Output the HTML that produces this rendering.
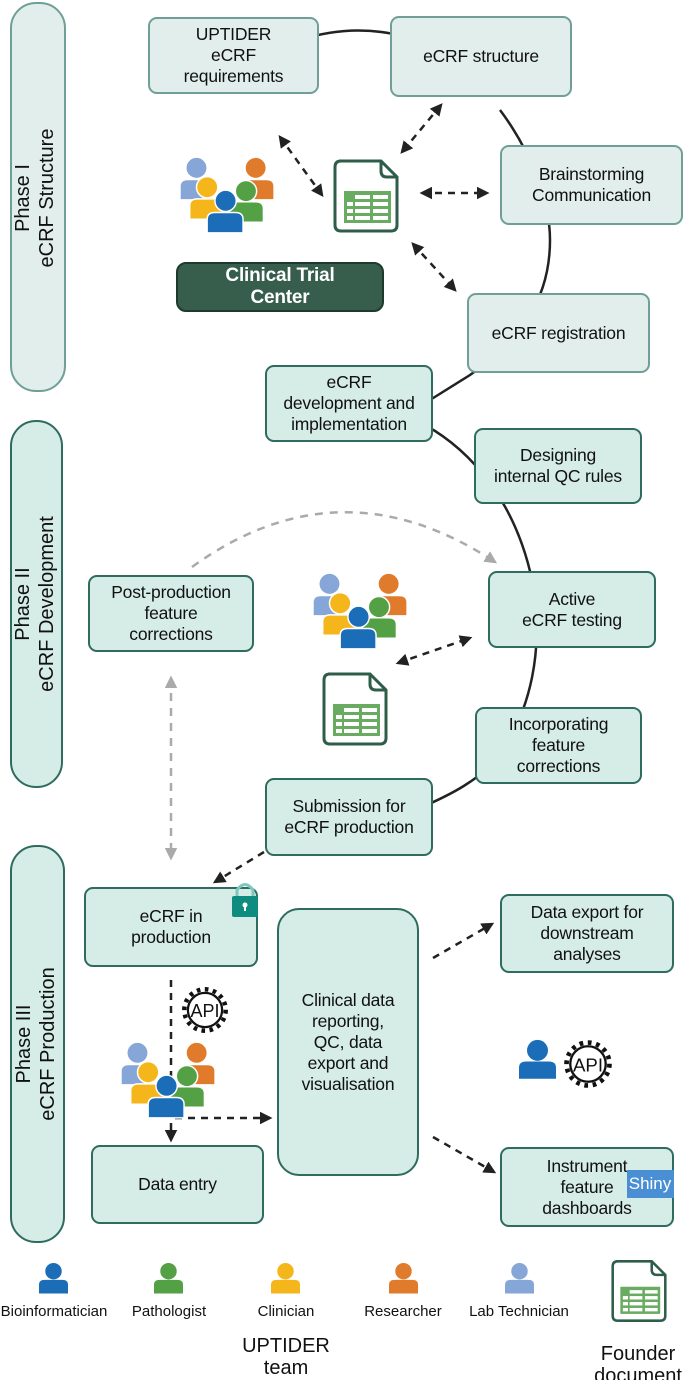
<!DOCTYPE html>
<html><head><meta charset="utf-8"><style>
body{margin:0;background:#fff;}
#c{position:relative;width:685px;height:1380px;overflow:hidden;font-family:"Liberation Sans",sans-serif;color:#111;}
.b{position:absolute;box-sizing:border-box;border:2px solid #6f9f96;border-radius:9px;background:#e2eeec;display:flex;align-items:center;justify-content:center;text-align:center;font-size:17.5px;line-height:21px;letter-spacing:-0.2px;}
.g{background:#d5ece7;border-color:#2f6b5e;}
.ph{position:absolute;box-sizing:border-box;border:2px solid #6f9f96;border-radius:26px;background:#e2eeec;}
.pl{position:absolute;transform:rotate(-90deg);transform-origin:center;text-align:center;font-size:20px;line-height:24px;white-space:nowrap;}
.t{position:absolute;font-size:15px;text-align:center;white-space:nowrap;}
svg{position:absolute;left:0;top:0;}
</style></head><body><div id="c">
<svg width="685" height="1380">
<path d="M300,40 Q355,22 410,38" fill="none" stroke="#222" stroke-width="2.5"/>
<path d="M500,110 C530,150 550,200 550,240 C550,300 520,340 470,375 L430,400" fill="none" stroke="#222" stroke-width="2.5"/>
<path d="M425,425 C470,450 515,500 532,580 C545,650 530,710 500,755 C480,780 450,795 420,808" fill="none" stroke="#222" stroke-width="2.5"/>
</svg>

<div class="ph" style="left:10px;top:2px;width:56px;height:390px"></div>
<div class="pl" style="left:-64px;top:173px;width:200px;height:50px">Phase I<br>eCRF Structure</div>
<div class="ph" style="left:10px;top:420px;width:53px;height:368px;background:#d5ece7;border-color:#2f6b5e"></div>
<div class="pl" style="left:-64px;top:579px;width:200px;height:50px">Phase II<br>eCRF Development</div>
<div class="ph" style="left:10px;top:845px;width:55px;height:398px;background:#d5ece7;border-color:#2f6b5e"></div>
<div class="pl" style="left:-63px;top:1019px;width:200px;height:50px">Phase III<br>eCRF Production</div>

<div class="b" style="left:148px;top:17px;width:171px;height:77px">UPTIDER<br>eCRF<br>requirements</div>
<div class="b" style="left:390px;top:16px;width:182px;height:81px">eCRF structure</div>
<div class="b" style="left:500px;top:145px;width:183px;height:80px">Brainstorming<br>Communication</div>
<div class="b" style="left:467px;top:293px;width:183px;height:80px">eCRF registration</div>
<div class="b g" style="left:265px;top:365px;width:168px;height:77px">eCRF<br>development and<br>implementation</div>
<div class="b g" style="left:474px;top:428px;width:168px;height:76px">Designing<br>internal QC rules</div>
<div class="b g" style="left:488px;top:571px;width:168px;height:77px">Active<br>eCRF testing</div>
<div class="b g" style="left:88px;top:575px;width:166px;height:77px">Post-production<br>feature<br>corrections</div>
<div class="b g" style="left:475px;top:707px;width:167px;height:77px">Incorporating<br>feature<br>corrections</div>
<div class="b g" style="left:265px;top:778px;width:168px;height:78px">Submission for<br>eCRF production</div>
<div class="b g" style="left:84px;top:887px;width:174px;height:80px">eCRF in<br>production</div>
<div class="b g" style="left:277px;top:908px;width:142px;height:268px;border-radius:22px">Clinical data<br>reporting,<br>QC, data<br>export and<br>visualisation</div>
<div class="b g" style="left:500px;top:894px;width:174px;height:79px">Data export for<br>downstream<br>analyses</div>
<div class="b g" style="left:91px;top:1145px;width:173px;height:79px">Data entry</div>
<div class="b g" style="left:500px;top:1147px;width:174px;height:80px">Instrument<br>feature<br>dashboards</div>
<div class="b" style="left:176px;top:262px;width:208px;height:50px;background:#375e4d;border-color:#1d3a2e;color:#fff;font-weight:bold;font-size:19px;line-height:22px;border-radius:10px">Clinical Trial<br>Center</div>

<svg width="685" height="1380">
<defs>
<marker id="a" viewBox="0 0 10 10" refX="8" refY="5" markerWidth="5" markerHeight="5" orient="auto-start-reverse"><path d="M0,0 L10,5 L0,10 Z" fill="#222"/></marker>
<marker id="ag" viewBox="0 0 10 10" refX="8" refY="5" markerWidth="5" markerHeight="5" orient="auto-start-reverse"><path d="M0,0 L10,5 L0,10 Z" fill="#aaa"/></marker>
<symbol id="p" viewBox="0 0 30 32"><circle cx="15" cy="9" r="8.5" fill="currentColor"/><path d="M0,32 L0,23 Q0,18 6,18 L24,18 Q30,18 30,23 L30,32 Z" fill="currentColor"/></symbol>
<symbol id="grp" viewBox="0 0 100 80">
<g stroke="#fff" stroke-width="1.5">
<circle cx="17" cy="11" r="11" fill="#85a6d6"/><path d="M0,44 L0,30 Q0,23 8,23 L26,23 Q33,23 33,30 L33,44 Z" fill="#85a6d6"/>
<circle cx="78" cy="11" r="11" fill="#e07b2b"/><path d="M63,44 L63,30 Q63,23 71,23 L89,23 Q97,23 97,30 L97,44 Z" fill="#e07b2b"/>
<circle cx="28" cy="31" r="11" fill="#f5b61b"/><path d="M10,64 L10,50 Q10,43 18,43 L37,43 Q45,43 45,50 L45,64 Z" fill="#f5b61b"/>
<circle cx="68" cy="35" r="11" fill="#53a045"/><path d="M51,67 L51,53 Q51,46 59,46 L78,46 Q86,46 86,53 L86,67 Z" fill="#53a045"/>
<circle cx="47" cy="45" r="11" fill="#1b6db8"/><path d="M28,78 L28,64 Q28,57 36,57 L57,57 Q65,57 65,64 L65,78 Z" fill="#1b6db8"/>
</g></symbol>
<symbol id="doc" viewBox="0 0 66 74">
<path d="M6,2 L48,2 L64,18 L64,66 Q64,72 58,72 L8,72 Q2,72 2,66 L2,8 Q2,2 8,2 Z" fill="#fff" stroke="#2e5e4a" stroke-width="3"/>
<path d="M48,2 L48,12 Q48,18 54,18 L64,18" fill="none" stroke="#2e5e4a" stroke-width="3"/>
<rect x="11" y="32" width="47" height="32" fill="#6aab62"/>
<g fill="#fff"><rect x="22" y="36" width="15" height="4"/><rect x="40" y="36" width="15" height="4"/>
<rect x="14" y="43" width="6" height="4"/><rect x="22" y="43" width="15" height="4"/><rect x="40" y="43" width="15" height="4"/>
<rect x="14" y="50" width="6" height="4"/><rect x="22" y="50" width="15" height="4"/><rect x="40" y="50" width="15" height="4"/>
<rect x="14" y="57" width="6" height="4"/><rect x="22" y="57" width="15" height="4"/><rect x="40" y="57" width="15" height="4"/></g>
</symbol>
<symbol id="gear" viewBox="0 0 60 60">
<circle cx="30" cy="30" r="23" fill="none" stroke="#111" stroke-width="5" stroke-dasharray="4 5"/>
<circle cx="30" cy="30" r="19" fill="#fff" stroke="#111" stroke-width="2.5"/>
<text x="30" y="38" font-family="Liberation Sans" font-size="20" text-anchor="middle" fill="#111">API</text>
</symbol>
</defs>
<g fill="none" stroke="#222" stroke-width="2.5" stroke-dasharray="7 6">
<line x1="280" y1="137" x2="322" y2="195" marker-start="url(#a)" marker-end="url(#a)"/>
<line x1="441" y1="105" x2="402" y2="152" marker-start="url(#a)" marker-end="url(#a)"/>
<line x1="422" y1="193" x2="487" y2="193" marker-start="url(#a)" marker-end="url(#a)"/>
<line x1="413" y1="244" x2="455" y2="290" marker-start="url(#a)" marker-end="url(#a)"/>
<line x1="398" y1="663" x2="470" y2="638" marker-start="url(#a)" marker-end="url(#a)"/>
<line x1="264" y1="852" x2="215" y2="882" marker-end="url(#a)"/>
<line x1="171" y1="980" x2="171" y2="1140" marker-end="url(#a)"/>
<line x1="175" y1="1118" x2="270" y2="1118" marker-end="url(#a)"/>
<line x1="433" y1="958" x2="492" y2="924" marker-end="url(#a)"/>
<line x1="433" y1="1137" x2="494" y2="1172" marker-end="url(#a)"/>
</g>
<g fill="none" stroke="#aaa" stroke-width="2.5" stroke-dasharray="8 7">
<path d="M192,567 Q340,460 495,562" marker-end="url(#ag)"/>
<line x1="171" y1="678" x2="171" y2="858" marker-start="url(#ag)" marker-end="url(#ag)"/>
</g>
<use href="#grp" x="180" y="157" width="97" height="78"/>
<use href="#grp" x="313" y="573" width="97" height="78"/>
<use href="#grp" x="121" y="1042" width="97" height="78"/>
<use href="#doc" x="333" y="159" width="66" height="74"/>
<use href="#doc" x="322" y="672" width="66" height="74"/>
<use href="#doc" x="611" y="1259" width="56" height="64"/>
<use href="#gear" x="178" y="983" width="54" height="54"/>
<use href="#gear" x="560" y="1036" width="56" height="56"/>
<use href="#p" x="519" y="1038" width="37" height="42" color="#1b6db8"/>
<g>
<path d="M237,898 L237,890 Q245,879 253,890 L253,898" fill="none" stroke="#7cc8c0" stroke-width="3"/>
<rect x="232" y="896" width="26" height="21" rx="2" fill="#0f8c80"/>
<circle cx="245" cy="905" r="2.5" fill="#fff"/><rect x="244" y="905" width="2" height="6" fill="#fff"/>
</g>
<rect x="627" y="1170" width="47" height="28" fill="#4a8fd4"/>
<text x="650" y="1189" font-family="Liberation Sans" font-size="17" fill="#fff" text-anchor="middle">Shiny</text>
<use href="#p" x="39" y="1261" width="29" height="34" color="#1b6db8"/>
<use href="#p" x="154" y="1261" width="29" height="34" color="#53a045"/>
<use href="#p" x="271" y="1261" width="29" height="34" color="#f5b61b"/>
<use href="#p" x="389" y="1261" width="29" height="34" color="#e07b2b"/>
<use href="#p" x="505" y="1261" width="29" height="34" color="#85a6d6"/>
</svg>
<div class="t" style="left:-6px;top:1303px;width:120px">Bioinformatician</div>
<div class="t" style="left:109px;top:1303px;width:120px">Pathologist</div>
<div class="t" style="left:226px;top:1303px;width:120px">Clinician</div>
<div class="t" style="left:343px;top:1303px;width:120px">Researcher</div>
<div class="t" style="left:459px;top:1303px;width:120px">Lab Technician</div>
<div class="t" style="left:206px;top:1335px;width:160px;font-size:20px;line-height:22px">UPTIDER<br>team</div>
<div class="t" style="left:558px;top:1343px;width:160px;font-size:20px;line-height:22px">Founder<br>document</div>
</div></body></html>
